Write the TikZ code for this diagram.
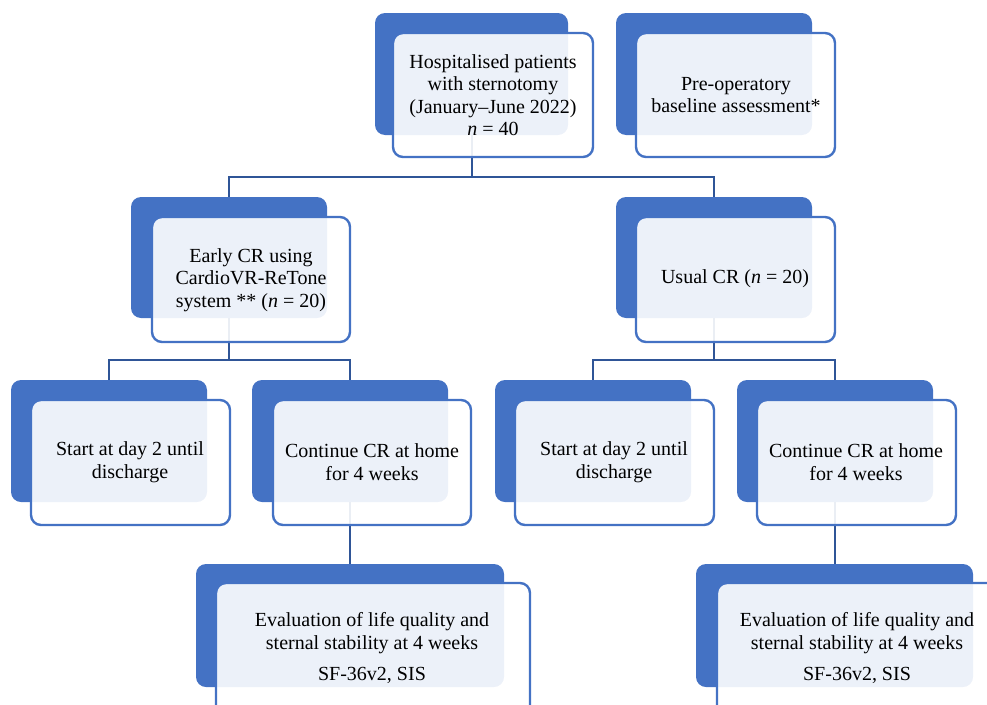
\documentclass[tikz,border=0pt]{standalone}
\usepackage{fontspec}
\setmainfont{Liberation Serif}
\definecolor{darkbox}{HTML}{4472C4}
\definecolor{conn}{HTML}{2F5597}
\tikzset{
  backbox/.style={draw=none, fill=darkbox, rounded corners=10pt},
  frontbox/.style={draw=darkbox, line width=2.4pt, fill=white, fill opacity=0.9, rounded corners=10pt},
  connector/.style={draw=conn, line width=2pt},
  label/.style={align=center, text=black, inner sep=0pt, font=\fontsize{20}{22.5}\selectfont}
}
\newcommand{\boxpair}[9]{%
  % #1 name, #2-#5 dark x1,y1,x2,y2, #6-#9 front x1,y1,x2,y2
  \node[backbox, minimum width={#4-#2}, minimum height={#5-#3}, inner sep=0pt] (#1d) at ({(#2+#4)/2},{(#3+#5)/2}) {};
  \coordinate (#1fa) at (#6,#7);
  \coordinate (#1fb) at (#8,#9);
}
\begin{document}
\begin{tikzpicture}[x=1pt,y=-1pt]
\useasboundingbox (0,0) rectangle (987,704);
% dark back boxes
\boxpair{T1}{375}{13}{568}{135}{393}{33}{593}{157}
\boxpair{T2}{616}{13}{812}{135}{636}{33}{835}{157}
\boxpair{E}{131}{197}{327}{318}{152}{217}{350}{342}
\boxpair{U}{616}{197}{812}{318}{636}{217}{835}{342}
\boxpair{SA}{11}{380}{207}{502}{31}{400}{230}{525}
\boxpair{CA}{252}{380}{448}{502}{273}{400}{471}{525}
\boxpair{SB}{495}{380}{691}{502}{515}{400}{714}{525}
\boxpair{CB}{737}{380}{933}{502}{757}{400}{956}{525}
\boxpair{VA}{196}{564}{504}{687}{216}{583}{530}{730}
\boxpair{VB}{696}{564}{973}{687}{717}{583}{1010}{730}
% bus coordinates
\coordinate (bus1) at (0,177);
\coordinate (bus2) at (0,360);
% connectors
\draw[connector] (T1d.south) -- (T1d.south |- bus1) -| (Ed.north);
\draw[connector] (T1d.south |- bus1) -| (Ud.north);
\draw[connector] (Ed.south) -- (Ed.south |- bus2) -| (SAd.north);
\draw[connector] (Ed.south |- bus2) -| (CAd.north);
\draw[connector] (Ud.south) -- (Ud.south |- bus2) -| (SBd.north);
\draw[connector] (Ud.south |- bus2) -| (CBd.north);
\draw[connector] (CAd.south) -- (CAd.south |- VAd.north);
\draw[connector] (CBd.south) -- (CBd.south |- VBd.north);
% front boxes
\foreach \n in {T1,T2,E,U,SA,CA,SB,CB,VA,VB}{
  \path[frontbox] (\n fa) rectangle (\n fb);
}
% texts
\node[label] (tT1) at (493,95) {Hospitalised patients\\with sternotomy\\(January--June 2022)\\\textit{n} = 40};
\node[label] (tT2) at (736,95) {Pre-operatory\\baseline assessment*};
\node[label] (tE) at (251,280) {Early CR using\\CardioVR-ReTone\\system ** (\textit{n} = 20)};
\node[label] (tU) at (735,279) {Usual CR (\textit{n} = 20)};
\node[label] (tSA) at (130,462) {Start at day 2 until\\discharge};
\node[label] (tCA) at (372,462) {Continue CR at home\\for 4 weeks};
\node[label] (tSB) at (614,462) {Start at day 2 until\\discharge};
\node[label] (tCB) at (856,462) {Continue CR at home\\for 4 weeks};
\node[label] (tVA) at (372,648) {Evaluation of life quality and\\sternal stability at 4 weeks\\[9pt]SF-36v2, SIS};
\node[label] (tVB) at (857,648) {Evaluation of life quality and\\sternal stability at 4 weeks\\[9pt]SF-36v2, SIS};
\end{tikzpicture}
\end{document}
